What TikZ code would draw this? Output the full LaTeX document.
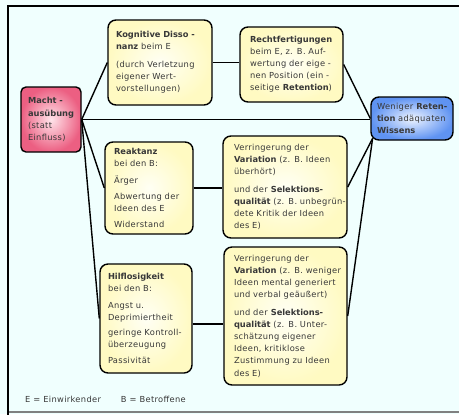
\documentclass[tikz,border=0pt]{standalone}
\usepackage{fontspec}
\setmainfont{DejaVu Sans}[LetterSpace=4, BoldFeatures={LetterSpace=0}]
\usetikzlibrary{calc}
\definecolor{bgc}{HTML}{F0FFFE}
\definecolor{ycen}{HTML}{FFFFF4}
\definecolor{yedge}{HTML}{FFFAC2}
\definecolor{pcen}{HTML}{FFE4EA}
\definecolor{pedge}{HTML}{EC5F82}
\definecolor{bcen}{HTML}{EEF4FF}
\definecolor{bedge}{HTML}{5F93F2}
\definecolor{txt}{HTML}{383838}
\newcommand\zl[1]{\mbox{#1}}
\begin{document}
\begin{tikzpicture}[x=1bp,y=-1bp,
  box/.style={draw=black, line width=1.4bp, rounded corners=8bp, align=left,
    inner ysep=0pt, text=txt, font=\fontsize{8.3bp}{12.1bp}\selectfont},
  ybox/.style={box, inner color=ycen, outer color=yedge},
  pbox/.style={box, rounded corners=5bp, inner color=pcen, outer color=pedge},
  bbox/.style={box, inner color=bcen, outer color=bedge},
  link/.style={draw=black, line width=1.4bp},
  note/.style={text=txt, font=\fontsize{8.3bp}{12.1bp}\selectfont, inner sep=0pt}]
\fill[bgc] (0,0) rectangle (459,414);
\useasboundingbox (0,0) rectangle (459,414);
\draw[line width=2bp, gray] (8,412) -- (466,412);
\draw[line width=1.5bp] (8,418) -- (8,6) -- (466,6);

\node[pbox, minimum width=60bp, minimum height=65bp, inner xsep=7bp, text width=46bp] (macht) at (51,119.5)
  {\textbf{Macht -}\\\textbf{ausübung}\\(statt\\Einfluss)};
\node[ybox, minimum height=85bp, inner xsep=8bp, text width=88bp] (kog) at (160,62.5)
  {\zl{\textbf{Kognitive Disso -}}\\\textbf{nanz} beim E\\[6bp]\zl{(durch Verletzung}\\eigener Wert-\\vorstellungen)};
\node[ybox, minimum height=75bp, inner xsep=10bp, text width=83bp] (rech) at (291.5,64.5)
  {\textbf{Rechtfertigungen}\\\zl{beim E, z. B. Auf-}\\\zl{wertung der eige -}\\\zl{nen Position (ein -}\\\zl{seitige \textbf{Retention})}};
\node[bbox, minimum height=43bp, inner xsep=6bp, text width=70bp] (wen) at (412,118.5)
  {\zl{Weniger \textbf{Reten-}}\\\zl{\textbf{tion} adäquaten}\\\textbf{Wissens}};
\node[ybox, minimum height=92bp, inner xsep=9bp, text width=70bp] (reak) at (149,188)
  {\textbf{Reaktanz}\\bei den B:\\[4bp]Ärger\\[4bp]\zl{Abwertung der}\\Ideen des E\\[4bp]Widerstand};
\node[ybox, minimum height=102bp, inner xsep=11bp, text width=102bp] (verr1) at (285,187)
  {\zl{Verringerung der}\\\zl{\textbf{Variation} (z. B. Ideen}\\überhört)\\[6bp]\zl{und der \textbf{Selektions-}}\\\zl{\textbf{qualität} (z. B. unbegrün-}\\\zl{dete Kritik der Ideen}\\des E)};
\node[ybox, minimum height=109bp, inner xsep=8bp, text width=76bp] (hilf) at (146,318.5)
  {\textbf{Hilflosigkeit}\\bei den B:\\[4bp]Angst u.\\Deprimiertheit\\[3bp]\zl{geringe Kontroll-}\\überzeugung\\[4bp]Passivität};
\node[ybox, minimum height=138bp, inner xsep=10bp, text width=103bp] (verr2) at (285.5,316)
  {\zl{Verringerung der}\\\zl{\textbf{Variation} (z. B. weniger}\\\zl{Ideen mental generiert}\\\zl{und verbal geäußert)}\\[6bp]\zl{und der \textbf{Selektions-}}\\\zl{\textbf{qualität} (z. B. Unter-}\\\zl{schätzung eigener}\\\zl{Ideen, kritiklose}\\\zl{Zustimmung zu Ideen}\\des E)};
\node[note, anchor=west] (legend) at (25,399) {E = Einwirkender\hspace{20bp}B = Betroffene};

\draw[link] (macht.east) -- (kog.west);
\draw[link] (macht.east) -- (macht.east -| wen.west);
\draw[link] (macht.east) -- (reak.west);
\draw[link] (macht.east) -- (hilf.west);
\draw[link] (kog.east) -- (kog.east -| rech.west);
\draw[link] (rech.east) -- (wen.west);
\draw[link] (reak.east) -- (reak.east -| verr1.west);
\draw[link] ([yshift=-5.5bp]hilf.east) -- ([yshift=-5.5bp]hilf.east -| verr2.west);
\draw[link] (verr1.east) -- ([shift={(2.3bp,2.3bp)}]wen.south west);
\draw[link] (verr2.east) -- ([shift={(2.3bp,2.3bp)}]wen.south west);
\end{tikzpicture}
\end{document}
